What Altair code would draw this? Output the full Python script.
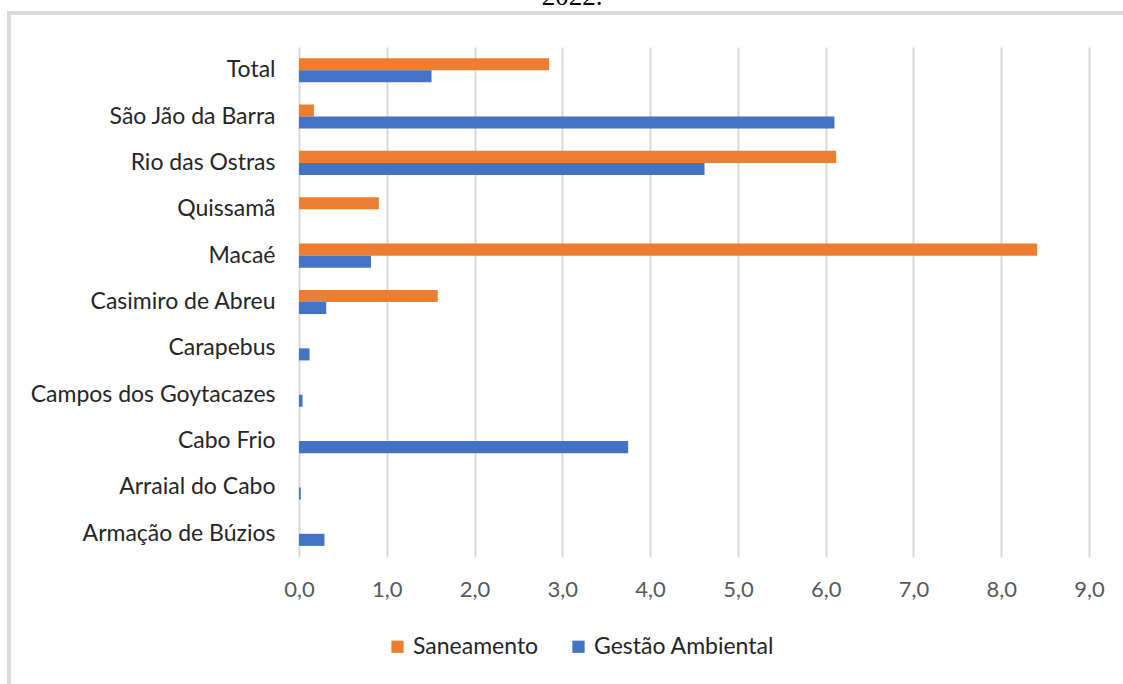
import altair as alt
import pandas as pd

categories = ["Total", "São Jão da Barra", "Rio das Ostras", "Quissamã", "Macaé",
              "Casimiro de Abreu", "Carapebus", "Campos dos Goytacazes", "Cabo Frio",
              "Arraial do Cabo", "Armação de Búzios"]
saneamento = [2.85, 0.17, 6.12, 0.91, 8.41, 1.58, None, None, None, None, None]
gestao = [1.51, 6.10, 4.62, None, 0.82, 0.31, 0.12, 0.04, 3.75, 0.02, 0.29]
series = ["Saneamento", "Gestão Ambiental"]
colors = ["#ED7D31", "#4472C4"]
x_ticks = [0, 1, 2, 3, 4, 5, 6, 7, 8, 9]
title_text = ["2022."]

rows = []
for c, s, g in zip(categories, saneamento, gestao):
    if s is not None:
        rows.append({"Município": c, "Série": series[0], "Valor": s})
    if g is not None:
        rows.append({"Município": c, "Série": series[1], "Valor": g})
df = pd.DataFrame(rows)

FONT = "Lato"

bars = alt.Chart(df).mark_bar().encode(
    y=alt.Y("Município:N", sort=categories,
            scale=alt.Scale(paddingInner=0.48, paddingOuter=0.24),
            axis=alt.Axis(title=None, domain=False, ticks=False, grid=False,
                          labelFont=FONT, labelFontSize=23, labelColor="#262626",
                          labelPadding=24, labelLimit=300)),
    yOffset=alt.YOffset("Série:N", sort=series, scale=alt.Scale(domain=series)),
    x=alt.X("Valor:Q", scale=alt.Scale(domain=[0, 9], nice=False),
            axis=alt.Axis(title=None, values=x_ticks, domain=False, ticks=False,
                          grid=True, gridColor="#d9d9d9", gridWidth=2,
                          labelFlush=False,
                          labelExpr="replace(format(datum.value, '.1f'), '.', ',')",
                          labelFont=FONT, labelFontSize=22, labelColor="#595959",
                          labelPadding=22)),
    color=alt.Color("Série:N", sort=series,
                    scale=alt.Scale(domain=series, range=colors),
                    legend=alt.Legend(title=None, orient="none", direction="horizontal",
                                      legendX=87, legendY=588,
                                      symbolType="square", symbolSize=150,
                                      symbolStrokeWidth=0,
                                      labelFont=FONT, labelFontSize=23,
                                      labelColor="#262626", columnPadding=28,
                                      labelLimit=300)),
)

frame = alt.Chart(df).mark_rect(fill=None, stroke="#d9d9d9", strokeWidth=3).encode(
    x=alt.value(-290), x2=alt.value(900), y=alt.value(-34), y2=alt.value(700)
)

title = alt.Chart(pd.DataFrame({"t": title_text})).mark_text(
    font="Liberation Serif", fontSize=27, color="#000000",
    align="center", baseline="alphabetic"
).encode(text="t:N", x=alt.value(273), y=alt.value(-42))

chart = alt.layer(frame, bars, title).properties(
    width=790, height=510,
    autosize=alt.AutoSizeParams(type="none"),
    padding={"left": 299, "top": 47, "right": 34, "bottom": 127},
).configure(background="white", view=alt.ViewConfig(stroke=None))

chart.save("out.html", embed_options={"renderer": "svg", "actions": False})
